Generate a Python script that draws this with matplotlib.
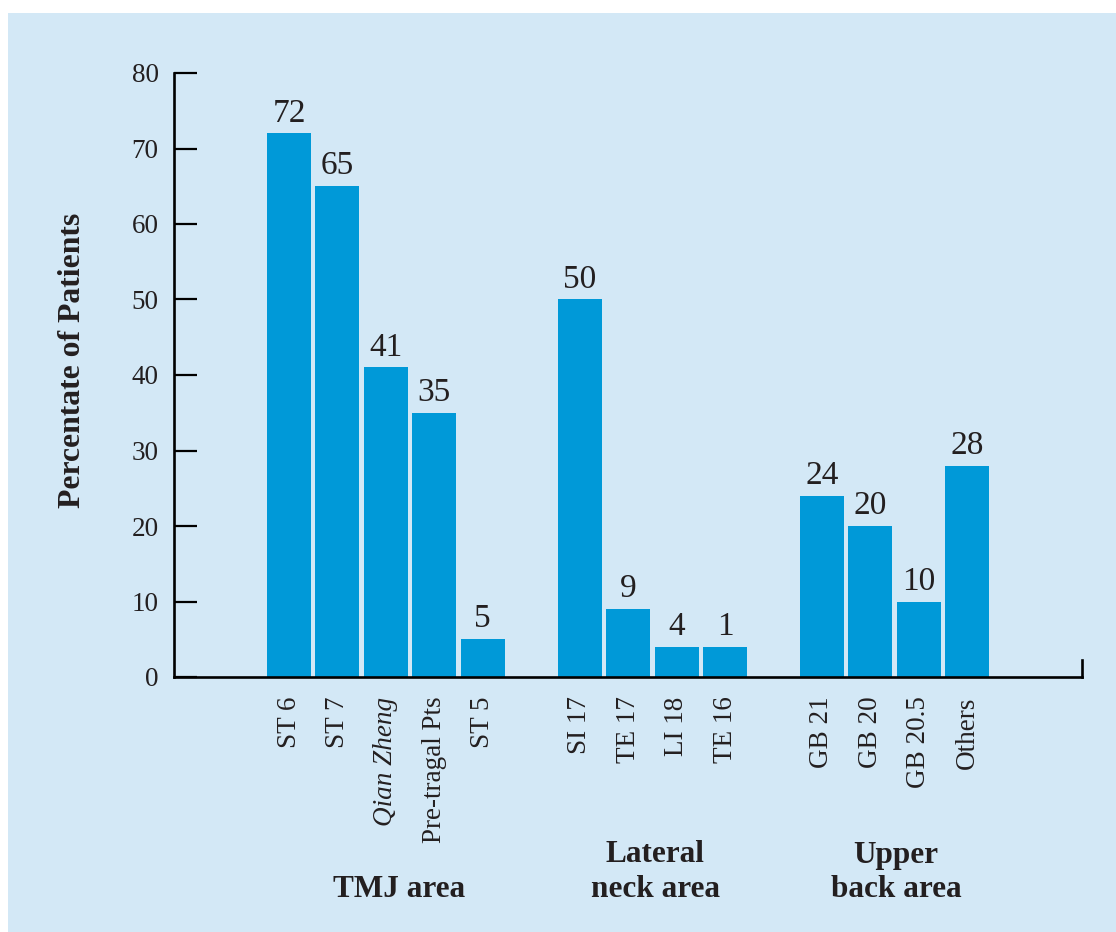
import matplotlib
matplotlib.use("Agg")
import matplotlib.pyplot as plt
from matplotlib.patches import Rectangle
from matplotlib.transforms import blended_transform_factory

# ---- data ----
categories = ["ST 6", "ST 7", "Qian Zheng", "Pre-tragal Pts", "ST 5",
              "SI 17", "TE 17", "LI 18", "TE 16",
              "GB 21", "GB 20", "GB 20.5", "Others"]
italic_flags = [False, False, True, False, False,
                False, False, False, False,
                False, False, False, False]
positions = [0, 1, 2, 3, 4, 6, 7, 8, 9, 11, 12, 13, 14]
bar_heights = [72, 65, 41, 35, 5, 50, 9, 4, 4, 24, 20, 10, 28]
value_labels = ["72", "65", "41", "35", "5", "50", "9", "4", "1",
                "24", "20", "10", "28"]
yticks = [0, 10, 20, 30, 40, 50, 60, 70, 80]
group_labels = ["TMJ area", "Lateral\nneck area", "Upper\nback area"]
group_centers = [2.27, 7.56, 12.53]
ylabel = "Percentate of Patients"

# ---- style ----
BG = "#d3e8f6"
BAR = "#0099d8"
TXT = "#231f20"
W, H = 1116, 932
plt.rcParams['font.family'] = ['Liberation Serif', 'DejaVu Serif']

fig = plt.figure(figsize=(W / 100, H / 100), dpi=100)
fig.patch.set_facecolor("white")
fig.add_artist(Rectangle((8 / W, 0), 1 - 8 / W, 1 - 13 / H,
                         transform=fig.transFigure, facecolor=BG,
                         edgecolor="none", zorder=0))

ax = fig.add_axes([174 / W, 1 - 677 / H, (1082 - 174) / W, (677 - 73) / H])
ax.set_facecolor("none")
ax.bar(positions, bar_heights, width=0.908, color=BAR, zorder=2)
ax.set_xlim(-2.375, 16.37)
ax.set_ylim(0, 80)

ax.spines["top"].set_visible(False)
for sp in ["left", "bottom", "right"]:
    ax.spines[sp].set_linewidth(1.9)
    ax.spines[sp].set_color("black")
ax.spines["right"].set_bounds(0, 2.3)

ax.set_yticks(yticks)
ax.set_yticklabels([str(v) for v in yticks])
ax.tick_params(axis="y", direction="in", length=16.5, width=1.6,
               pad=11, labelsize=19.5, colors="black")
ax.tick_params(axis="y", labelcolor=TXT)
ax.set_xticks(positions)
ax.set_xticklabels(categories, rotation=90, fontsize=19.5, color=TXT)
ax.tick_params(axis="x", length=0, pad=14)
for lbl, it in zip(ax.get_xticklabels(), italic_flags):
    if it:
        lbl.set_fontstyle("italic")

for x, h, s in zip(positions, bar_heights, value_labels):
    ax.annotate(s, (x, h), xytext=(0, 8.5), textcoords="offset points",
                ha="center", va="baseline", fontsize=24, color=TXT)

tr = blended_transform_factory(ax.transData, fig.transFigure)
for x, s in zip(group_centers, group_labels):
    ax.text(x, 1 - 897 / H, s, transform=tr, ha="center", va="baseline",
            fontsize=22.5, fontweight="bold", color=TXT,
            linespacing=1.25, multialignment="center")

fig.text(73 / W, 1 - 360 / H, ylabel, rotation=90, ha="center", va="center",
         fontsize=22.8, fontweight="bold", color=TXT)

fig.savefig("out.png", dpi=100)
